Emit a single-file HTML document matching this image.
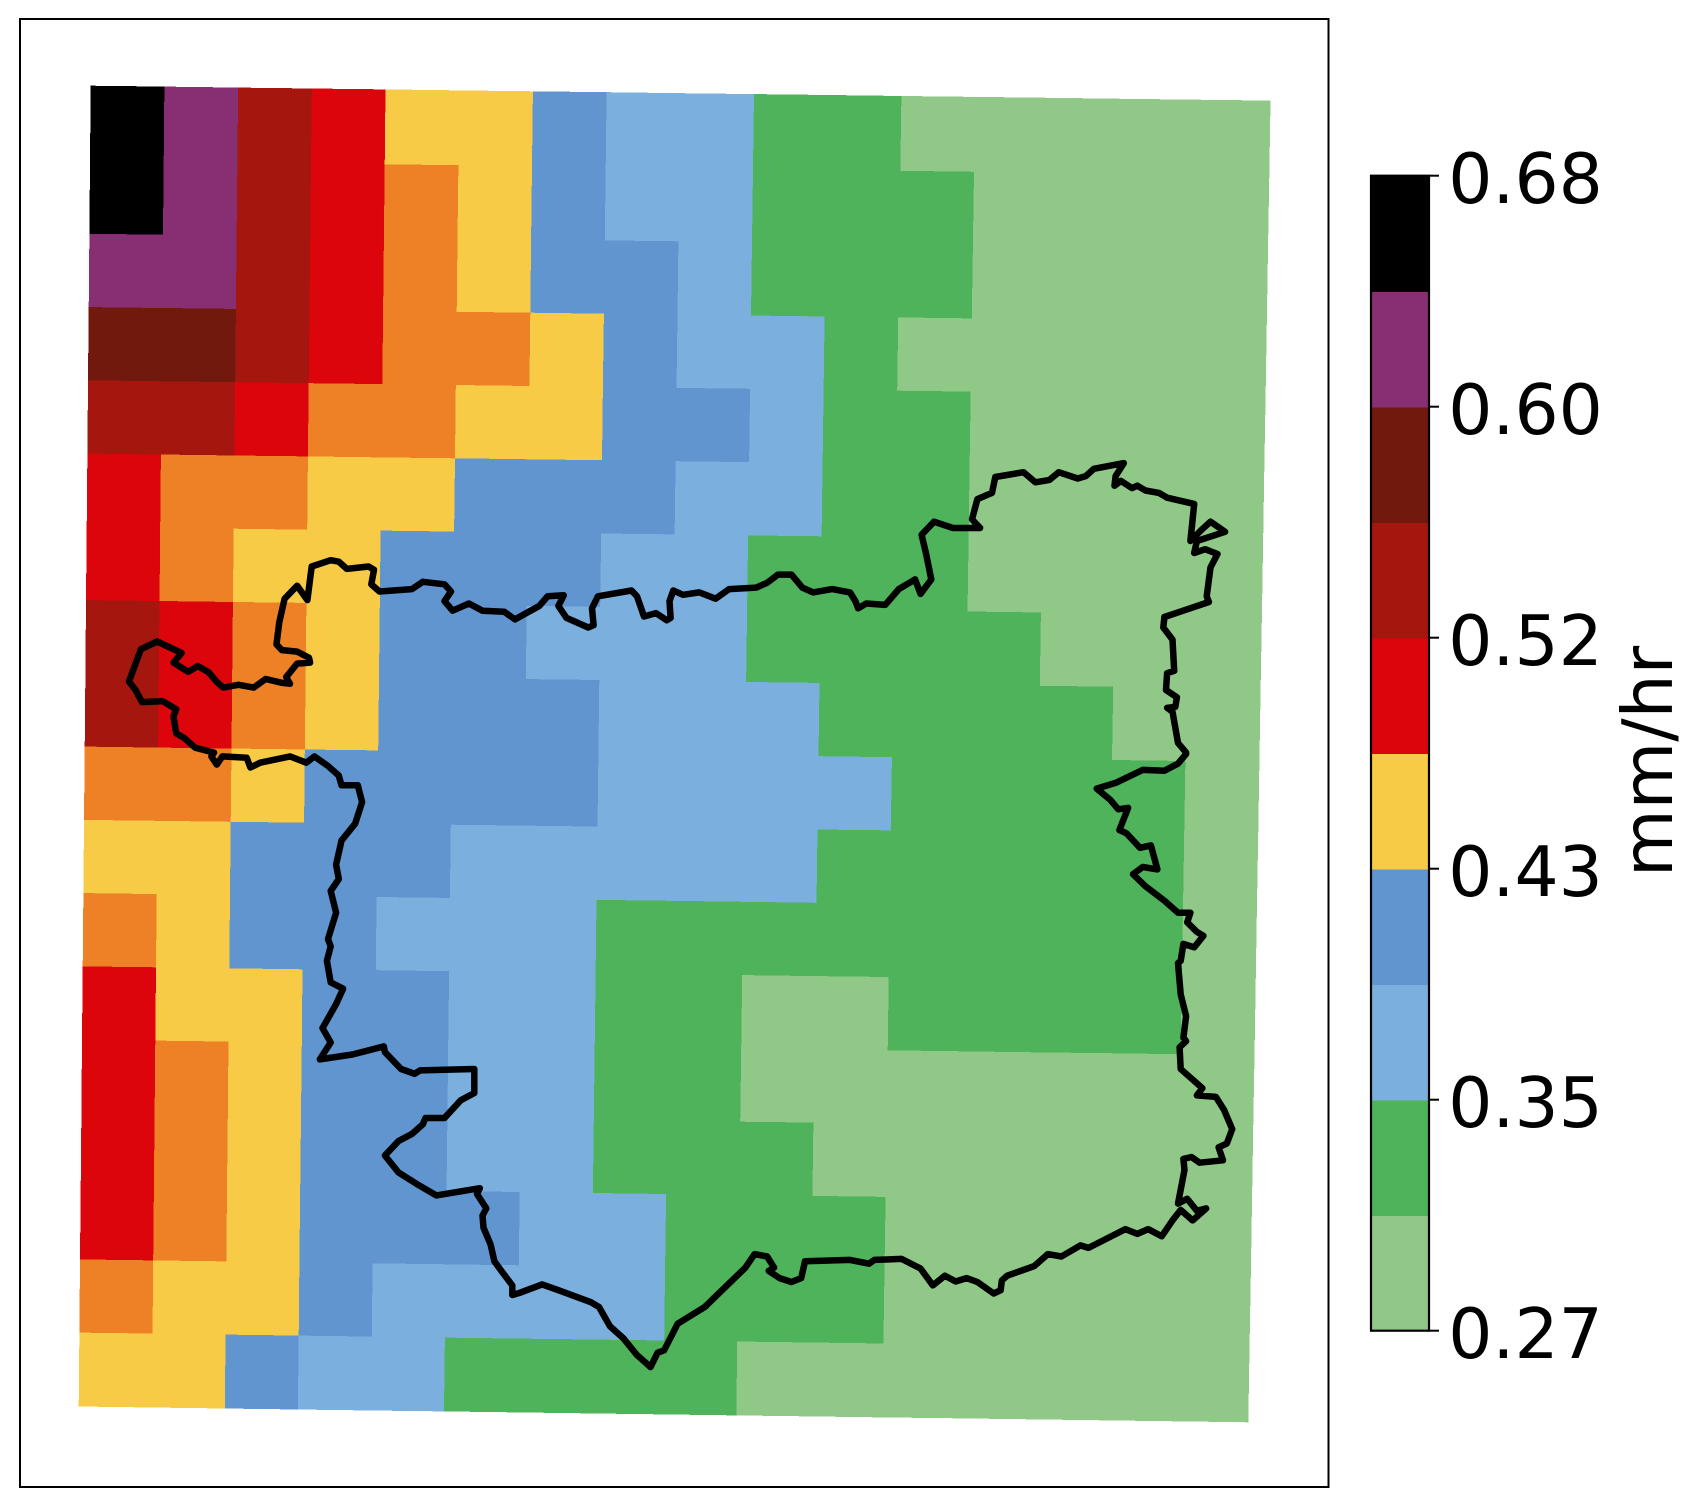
<!DOCTYPE html>
<html lang="en">
<head>
<meta charset="utf-8">
<title>Rainfall map</title>
<style>
html,body{margin:0;padding:0;background:#fff;}
svg{display:block;}
text{font-family:"DejaVu Sans",sans-serif;font-size:69.44px;fill:#000;}
</style>
</head>
<body>
<svg id="chart" width="1701" height="1508" viewBox="0 0 1701 1508" xmlns="http://www.w3.org/2000/svg">
<rect x="0" y="0" width="1701" height="1508" fill="#ffffff"/>
<g id="mesh"></g>
<path id="boundary" fill="none" stroke="#000" stroke-width="6.5" stroke-linejoin="round" stroke-linecap="round"/>
<rect x="20" y="19" width="1308.5" height="1468" fill="none" stroke="#000" stroke-width="2"/>
<g id="cbar"></g>
<text transform="translate(1672,877) rotate(-90)">mm/hr</text>
</svg>
<script>
// Class index of each grid cell: 0 pale green ... 10 black (5 = orange, not on the colour bar)
const palette = ['#90C987','#4EB35A','#7BAFDE','#6195CF','#F7CB45','#EE8026','#DC050C','#A5170E','#72190E','#882E72','#000000'];
const cellClass = [
 [10,9,7,6,4,4,3,2,2,1,1,0,0,0,0,0],
 [10,9,7,6,5,4,3,2,2,1,1,1,0,0,0,0],
 [9,9,7,6,5,4,3,3,2,1,1,1,0,0,0,0],
 [8,8,7,6,5,5,4,3,2,2,1,0,0,0,0,0],
 [7,7,6,5,5,4,4,3,3,2,1,1,0,0,0,0],
 [6,5,5,4,4,3,3,3,2,2,1,1,0,0,0,0],
 [6,5,4,4,3,3,3,2,2,1,1,1,0,0,0,0],
 [7,6,5,4,3,3,2,2,2,1,1,1,1,0,0,0],
 [7,6,5,4,3,3,3,2,2,2,1,1,1,1,0,0],
 [5,5,4,3,3,3,3,2,2,2,2,1,1,1,1,0],
 [4,4,3,3,3,2,2,2,2,2,1,1,1,1,1,0],
 [5,4,3,3,2,2,2,1,1,1,1,1,1,1,1,0],
 [6,4,4,3,3,2,2,1,1,0,0,1,1,1,1,0],
 [6,5,4,3,3,2,2,1,1,0,0,0,0,0,0,0],
 [6,5,4,3,3,2,2,1,1,1,0,0,0,0,0,0],
 [6,5,4,3,3,3,2,2,1,1,1,0,0,0,0,0],
 [5,4,4,3,2,2,2,2,1,1,1,0,0,0,0,0],
 [4,4,3,2,2,1,1,1,1,0,0,0,0,0,0,0]
];
// Colour bar
const cbarEdges = [0.27,0.311,0.352,0.393,0.434,0.475,0.516,0.557,0.598,0.639,0.68];
const cbarClasses = [0,1,2,3,4,6,7,8,9,10];
const cbarTicks = [0.27,0.352,0.434,0.516,0.598,0.68];
const cbarTickLabels = ['0.27','0.35','0.43','0.52','0.60','0.68'];
// Boundary traced in map units, one list per map quadrant (x,y pairs)
const boundaryNW = [395,1565,360,1555,340,1535,325,1525,320,1490,325,1475,300,1458,262,1460,250,1435,238,1417,260,1350,290,1334,335,1358,320,1378,347,1397,365,1385,385,1398,400,1418,412,1430,440,1424,468,1430,490,1412,520,1420,535,1422,528,1408,548,1380,572,1378,570,1368,548,1355,520,1352,510,1340,515,1295,525,1245,548,1218,567,1248,575,1178,610,1165,625,1168,640,1183,680,1178,690,1185,685,1215,700,1230,760,1225,780,1210,820,1215,832,1230,820,1250,835,1270,865,1255,890,1270,930,1272,950,1288,995,1260,1010,1240,1040,1238,1030,1260,1045,1285,1085,1305,1095,1300,1092,1265,1103,1240,1165,1228,1175,1240,1188,1282,1210,1275,1230,1290,1237,1285,1235,1250,1242,1228,1260,1237,1290,1232,1320,1245,1345,1225,1395,1222,1415,1212,1435,1195,1460,1195,1480,1222,1500,1232,1535,1225,1568,1232];
const boundaryNE = [0,1232,10,1250,15,1265,30,1255,65,1258,90,1225,120,1205,130,1235,150,1205,140,1150,132,1112,155,1085,190,1098,240,1098,225,1080,235,1038,262,1025,268,992,320,982,342,1003,368,998,385,982,420,995,435,990,450,975,505,963,490,990,488,1010,500,1000,520,1015,530,1010,545,1020,570,1025,585,1035,635,1048,628,1125,650,1100,665,1085,692,1106,640,1125,635,1150,655,1142,678,1152,665,1180,658,1240,662,1252,620,1268,580,1283,578,1305,595,1330,598,1395,585,1400,583,1435,603,1450,600,1470,585,1472,595,1480,605,1545,620,1565];
const boundarySE = [620,0,605,20,580,35,540,33,490,60,455,72,480,95,495,115,513,112,497,158,510,165,535,195,555,190,567,240,540,235,522,250,545,275,580,305,605,330,628,330,622,350,640,370,652,378,635,402,615,395,610,430,605,435,610,500,620,545,615,590,620,597,608,610,610,655,650,695,640,710,675,713,690,740,705,780,695,810,680,818,688,845,645,850,630,838,615,842,617,865,605,935,622,925,640,950,657,945,632,970,610,948,595,970,575,1003,550,988,530,998,508,988,440,1027,425,1022,390,1045,365,1040,340,1065,290,1085,280,1095,278,1115,265,1122,235,1098,215,1090,195,1097,175,1085,153,1105,130,1070,95,1050,45,1052,35,1060,0,1052];
const boundarySW = [1568,1052,1485,1055,1478,1090,1460,1098,1438,1090,1418,1075,1428,1068,1415,1045,1392,1040,1375,1068,1300,1150,1250,1185,1225,1240,1213,1245,1200,1275,1175,1250,1150,1215,1125,1190,1105,1150,1090,1140,1030,1115,1000,1103,960,1120,945,1125,945,1105,925,1075,912,1055,905,1020,892,985,890,960,897,945,880,915,885,903,805,918,770,895,735,870,710,835,735,805,760,790,780,770,785,757,820,757,850,720,875,705,875,655,775,658,765,665,740,655,710,620,708,608,650,625,590,635,610,600,595,570,620,520,633,488,610,475,603,430,610,400,605,385,620,330,610,285,625,260,620,230,630,180,655,145,668,100,660,65,630,65,625,45,605,25,580,5,565,18,535,5,480,18,462,28,455,8,410,5,400,22,390,5];

const NS = 'http://www.w3.org/2000/svg';
const meshTL = {x:91, y:87.6}, meshTR = {x:1270.2, y:102.5};
const meshBL = {x:79, y:1406.2}, meshBR = {x:1248, y:1422};
function meshPoint(col, row) {
  const u = col / cellClass[0].length;
  const v = row === 0 ? -0.0012 : row / cellClass.length;
  const tx = meshTL.x + (meshTR.x - meshTL.x) * u, ty = meshTL.y + (meshTR.y - meshTL.y) * u;
  const bx = meshBL.x + (meshBR.x - meshBL.x) * u, by = meshBL.y + (meshBR.y - meshBL.y) * u;
  return [tx + (bx - tx) * v, ty + (by - ty) * v];
}
const meshGroup = document.getElementById('mesh');
cellClass.forEach(function (rowValues, r) {
  rowValues.forEach(function (cls, c) {
    const corners = [meshPoint(c, r), meshPoint(c + 1, r), meshPoint(c + 1, r + 1), meshPoint(c, r + 1)];
    const poly = document.createElementNS(NS, 'polygon');
    poly.setAttribute('points', corners.map(function (p) { return p[0].toFixed(1) + ',' + p[1].toFixed(1); }).join(' '));
    poly.setAttribute('fill', palette[cls]);
    poly.setAttribute('stroke', palette[cls]);
    poly.setAttribute('stroke-width', '0.6');
    poly.setAttribute('shape-rendering', 'crispEdges');
    
    
    meshGroup.appendChild(poly);
  });
});

// Boundary: quadrant units to page pixels
const unitX = 850 / 1568, unitY = 754 / 1568;
function boundaryPath(list, originX, originY) {
  let d = '';
  for (let i = 0; i < list.length; i += 2) {
    d += (i ? 'L' : '') + (originX + list[i] * unitX).toFixed(1) + ' ' + (originY + list[i + 1] * unitY).toFixed(1);
  }
  return d;
}
function stripMove(d) { return 'L' + d; }
document.getElementById('boundary').setAttribute('d',
  'M' + boundaryPath(boundaryNW, 0, 0) +
  stripMove(boundaryPath(boundaryNE, 850, 0)) +
  stripMove(boundaryPath(boundarySE, 850, 754)) +
  stripMove(boundaryPath(boundarySW, 0, 754)) + 'Z');

// Colour bar axis
const cbarLeft = 1371, cbarRight = 1429, cbarTop = 175.7, cbarBottom = 1330.7;
function cbarY(v) {
  const lo = cbarEdges[0], hi = cbarEdges[cbarEdges.length - 1];
  return cbarBottom - (v - lo) / (hi - lo) * (cbarBottom - cbarTop);
}
const cbarGroup = document.getElementById('cbar');
cbarClasses.forEach(function (cls, i) {
  const rect = document.createElementNS(NS, 'rect');
  rect.setAttribute('x', cbarLeft);
  rect.setAttribute('y', (cbarY(cbarEdges[i + 1]) + 0.8).toFixed(1));
  rect.setAttribute('width', cbarRight - cbarLeft);
  rect.setAttribute('height', (cbarY(cbarEdges[i]) - cbarY(cbarEdges[i + 1])).toFixed(1));
  rect.setAttribute('fill', palette[cls]);
  rect.setAttribute('shape-rendering', 'crispEdges');
  
  
  cbarGroup.appendChild(rect);
});
const cbarFrame = document.createElementNS(NS, 'rect');
cbarFrame.setAttribute('x', cbarLeft);
cbarFrame.setAttribute('y', cbarTop);
cbarFrame.setAttribute('width', cbarRight - cbarLeft);
cbarFrame.setAttribute('height', cbarBottom - cbarTop);
cbarFrame.setAttribute('fill', 'none');
cbarFrame.setAttribute('stroke', '#000');
cbarFrame.setAttribute('stroke-width', '2.2');


cbarGroup.appendChild(cbarFrame);
cbarTicks.forEach(function (v, i) {
  const y = cbarY(v);
  const tick = document.createElementNS(NS, 'line');
  tick.setAttribute('x1', cbarRight);
  tick.setAttribute('x2', 1439);
  tick.setAttribute('y1', y.toFixed(1));
  tick.setAttribute('y2', y.toFixed(1));
  tick.setAttribute('stroke', '#000');
  tick.setAttribute('stroke-width', '2');
  
  
  cbarGroup.appendChild(tick);
  const label = document.createElementNS(NS, 'text');
  label.setAttribute('x', 1448.2);
  label.setAttribute('y', (y + 27.5).toFixed(1));
  
  
  label.textContent = cbarTickLabels[i];
  cbarGroup.appendChild(label);
});
</script>
</body>
</html>
